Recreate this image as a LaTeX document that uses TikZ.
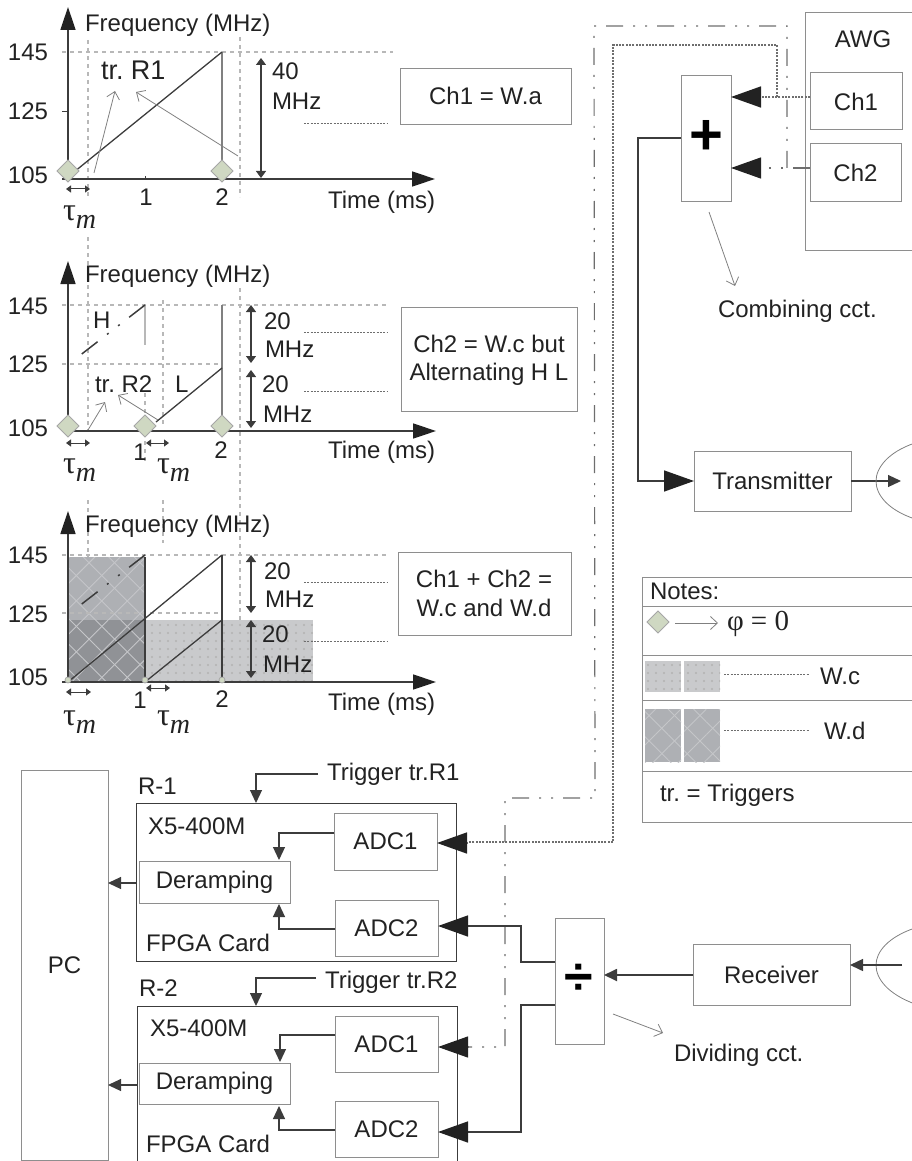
\documentclass[tikz,border=0pt]{standalone}
\usepackage{fontspec}
\setmainfont{Liberation Sans}
\newfontfamily\serifx{Liberation Serif}
\usetikzlibrary{arrows.meta,patterns.meta}
\frenchspacing
\definecolor{ink}{HTML}{222222}
\definecolor{edge}{HTML}{8E8E8E}
\definecolor{wire}{HTML}{3C3C3C}
\definecolor{grid}{HTML}{B8B8B8}
\definecolor{phase}{HTML}{CFD8C2}
\definecolor{wc}{HTML}{C9CACC}
\definecolor{wd}{HTML}{AEB0B4}
\definecolor{both}{HTML}{909296}
\definecolor{ddc}{HTML}{6E6E6E}
\newcommand{\rbox}[6]{%
  \pgfmathsetmacro\bw{abs(#4-#2)}\pgfmathsetmacro\bh{abs(#5-#3)}%
  \pgfmathsetmacro\bx{(#2+#4)/2}\pgfmathsetmacro\by{(#3+#5)/2}%
  \node[boxn,minimum width=\bw pt,minimum height=\bh pt] (#1) at (\bx,\by) {#6};}
\newcommand{\taum}{{\serifx\fontsize{32}{32}\selectfont τ}\raisebox{-8pt}{\serifx\itshape\fontsize{28}{28}\selectfont m}}
\tikzset{
  x=1pt,y=-1pt,
  every node/.style={text=ink,font=\fontsize{24}{26}\selectfont,inner sep=0pt,outer sep=0pt},
  boxn/.style={draw=edge,line width=1pt,fill=white,align=center},
  lbl/.style={anchor=base west},
  mid/.style={anchor=base},
  axis/.style={draw=#1,line width=1.4pt,-{Triangle[length=23pt,width=15pt,fill=ink,color=ink]}},
  axis/.default=wire,
  gridl/.style={draw=grid,line width=1.1pt,dash pattern=on 4pt off 4pt},
  ramp/.style={draw=wire,line width=1.3pt},
  vbar/.style={draw=#1,line width=1.3pt},
  vbar/.default=gray,
  span/.style={draw=wire,line width=1.3pt,{Triangle[length=7pt,width=10pt]}-{Triangle[length=7pt,width=10pt]}},
  tau/.style={draw=wire,line width=1pt,{Triangle[length=5pt,width=7pt]}-{Triangle[length=5pt,width=7pt]}},
  thin/.style={draw=gray,line width=.8pt,-{Straight Barb[length=7pt,width=13pt]}},
  dots/.style={draw=#1,line width=1pt,dash pattern=on 2pt off 1.3pt},
  dots/.default=ddc,
  dd/.style={draw=ddc,line width=1.2pt,dash pattern=on 17pt off 10pt on 2pt off 10pt on 2pt off 10pt},
  hdash/.style={draw=wire,line width=1.5pt,dash pattern=on 20pt off 12pt on 2pt off 12pt on 2pt off 12pt on 20pt off 10pt on 2pt off 50pt},
  phasem/.style={draw=gray!70,fill=phase,line width=.8pt},
  solid wire/.style={draw=wire,line width=1.5pt},
  bighead/.style={-{Triangle[length=30pt,width=21pt,color=ink]}},
  medhead/.style={-{Triangle[length=13pt,width=12pt,color=wire]}},
  smallhead/.style={-{Triangle[length=11pt,width=11pt,color=wire]}},
  xlinesa/.style={pattern={Lines[angle=45,distance=18pt,line width=.9pt]},pattern color=wd!72!white},
  xlinesb/.style={pattern={Lines[angle=-45,distance=18pt,line width=.9pt]},pattern color=wd!72!white},
  dotfill/.style={pattern={Dots[distance=8pt,radius=1.1pt]},pattern color=gray!60},
}
\newcommand{\diam}[2]{\draw[phasem] (#1-11,#2) -- (#1,#2-11) -- (#1+11,#2) -- (#1,#2+11) -- cycle;}
\begin{document}
\begin{tikzpicture}
\useasboundingbox (0,0) rectangle (912,1161);
\clip (0,0) rectangle (912,1161);
% long grid lines
\draw[gridl] (88,40) -- (88,197);
\draw[gridl] (88,237) -- (88,430);
\draw[gridl] (88,500) -- (88,680);
\draw[gridl] (240,37) -- (240,197);
\draw[gridl] (240,288) -- (240,640);
\draw[gridl] (163,300) -- (163,425);
\draw[gridl] (163,500) -- (163,543);
\draw[gridl] (145,393) -- (145,463);
\draw[gridl] (62,52) -- (393,52);
\draw[gridl] (62,305) -- (387,305);
\draw[gridl] (62,364) -- (222,364);
\draw[gridl] (62,555) -- (387,555);
% ---------- plot 3 shading
\fill[wd] (68,557) rectangle (145,682);
\fill[wc] (145,620) rectangle (313,682);
\fill[both] (68,620) rectangle (145,682);
\fill[xlinesa] (68,557) rectangle (145,682);
\fill[xlinesb] (68,557) rectangle (145,682);
\fill[dotfill] (145,620) rectangle (313,682);
\draw[gridl] (62,613) -- (222,613);
% ---------- plot 1
\draw[axis] (68,178) -- (68,7);
\draw[axis] (62,179) -- (435,179);
\draw[draw=wire,line width=1pt] (62,112) -- (68,112);
\draw[draw=wire,line width=1pt] (145,176) -- (145,179);
\draw[vbar] (222,52) -- (222,178);
\draw[ramp] (74,172) -- (222,52);
\diam{68}{171}
\diam{222}{171}
\draw[thin] (94,173) -- (115,91);
\draw[thin] (238,156) -- (136,92);
\draw[span] (261,58) -- (261,178);
\draw[tau] (66,189) -- (90,189);
\draw[dots] (304,124) -- (388,124);
\node[lbl] (f1) at (85,32) {Frequency (MHz)};
\node[lbl] (a145) at (8,61) {145};
\node[lbl] (a125) at (8,120) {125};
\node[lbl] (a105) at (8,183) {105};
\node[mid] (t1a) at (146,205) {1};
\node[mid] (t1b) at (222,205) {2};
\node[lbl] (tm1) at (328,208) {Time (ms)};
\node[lbl] (tau1) at (63,220) {\taum};
\node[lbl,font=\fontsize{27}{28}\selectfont] (trr1) at (101,80) {tr. R1};
\node[lbl] (n40) at (272,80) {40};
\node[lbl] (m40) at (272,110) {MHz};
\rbox{cha}{400}{69}{571}{125}{}
\node[mid] (chat) at (485.5,105) {Ch1 = W.a};
% ---------- plot 2
\draw[axis] (68,427) -- (68,261);
\draw[axis] (62,431) -- (436,431);
\draw[vbar] (222,305) -- (222,431);
\draw[vbar=grid] (145,305) -- (145,345);
\draw[ramp] (156,422) -- (222,368);
\draw[hdash] (145,305) -- (74,360);
\diam{68}{426}
\diam{145}{426}
\diam{222}{426}
\draw[thin] (88,430) -- (105,402);
\draw[thin] (158,420) -- (118,395);
\draw[span] (251,305) -- (251,363);
\draw[span] (251,370) -- (251,428);
\draw[tau] (66,443) -- (90,443);
\draw[tau] (146,443) -- (169,443);
\draw[dots] (304,332) -- (388,332);
\draw[dots] (304,391) -- (388,391);
\node[lbl] (f2) at (85,282) {Frequency (MHz)};
\node[lbl] (b145) at (8,314) {145};
\node[lbl] (b125) at (8,372) {125};
\node[lbl] (b105) at (8,436) {105};
\node[mid] (t2a) at (140,460) {1};
\node[mid] (t2b) at (221,458) {2};
\node[lbl] (tm2) at (328,458) {Time (ms)};
\node[lbl] (tau2a) at (63,473) {\taum};
\node[lbl] (tau2b) at (157,473) {\taum};
\node[lbl] (hh) at (93,328) {H};
\node[lbl] (ll) at (175,392) {L};
\node[lbl] (trr2) at (95,392) {tr. R2};
\node[lbl] (n20a) at (264,329) {20};
\node[lbl] (m20a) at (265,357) {MHz};
\node[lbl] (n20b) at (262,392) {20};
\node[lbl] (m20b) at (263,422) {MHz};
\rbox{chb}{401}{307}{577}{411}{}
\node[mid] (chbt) at (489,352) {Ch2 = W.c but};
\node[mid] (chbu) at (489,380) {Alternating H L};
% ---------- plot 3
\draw[axis] (68,680) -- (68,511);
\draw[axis] (62,682) -- (436,682);
\draw[ramp] (68,682) -- (222,555);
\draw[ramp] (145,682) -- (222,620);
\draw[vbar=wire] (145,557) -- (145,682);
\draw[vbar=wire] (222,555) -- (222,682);
\draw[hdash] (145,555) -- (74,610);
\foreach \cx in {68,145,222} \draw[phasem] (\cx,680) circle (3);
\draw[span] (251,555) -- (251,613);
\draw[span] (251,620) -- (251,678);
\draw[tau] (66,692) -- (91,692);
\draw[tau] (146,688) -- (170,688);
\draw[dots] (304,582) -- (388,582);
\draw[dots] (304,641) -- (388,641);
\node[lbl] (f3) at (85,532) {Frequency (MHz)};
\node[lbl] (c145) at (8,563) {145};
\node[lbl] (c125) at (8,622) {125};
\node[lbl] (c105) at (8,685) {105};
\node[mid] (t3a) at (140,708) {1};
\node[mid] (t3b) at (222,707) {2};
\node[lbl] (tm3) at (328,710) {Time (ms)};
\node[lbl] (tau3a) at (63,725) {\taum};
\node[lbl] (tau3b) at (157,725) {\taum};
\node[lbl] (n20c) at (264,579) {20};
\node[lbl] (m20c) at (265,607) {MHz};
\node[lbl] (n20d) at (262,642) {20};
\node[lbl] (m20d) at (263,672) {MHz};
\rbox{chc}{398}{552}{571}{635}{}
\node[mid] (chct) at (484,587) {Ch1 + Ch2 =};
\node[mid] (chcu) at (484,616) {W.c and W.d};
% ---------- AWG
\draw[draw=edge,line width=1pt] (920,13) -- (805,13) -- (805,250) -- (920,250);
\node[mid] (awg) at (863,48) {AWG};
\rbox{ch1}{810}{73}{902}{130}{Ch1}
\rbox{ch2}{810}{144}{901}{201}{Ch2}
\rbox{plus}{681}{76}{731}{201}{}
\node[font=\fontsize{58}{58}\bfseries\selectfont,text=black] (plust) at (706,137) {+};
\node[lbl] (comb) at (718,317) {Combining cct.};
\draw[thin] (709,212) -- (735,286);
% ---------- receivers
\rbox{pc}{21}{770}{108}{1160}{PC}
\rbox{r1}{136}{803}{456}{961}{}
\draw[draw=wire,line width=1pt] (r1.north west) rectangle (r1.south east);
\draw[draw=wire,line width=1pt] (137,1170) -- (137,1006) -- (457,1006) -- (457,1170);
\rbox{dr1}{139}{861}{290}{903}{Deramping}
\rbox{dr2}{139}{1063}{290}{1104}{Deramping}
\rbox{a11}{334}{813}{437}{870}{ADC1}
\rbox{a12}{335}{900}{438}{956}{ADC2}
\rbox{a21}{335}{1016}{438}{1072}{ADC1}
\rbox{a22}{335}{1101}{438}{1157}{ADC2}
\node[lbl] (r1l) at (138,794) {R-1};
\node[lbl] (r2l) at (139,996) {R-2};
\node[lbl] (xa) at (148,834) {X5-400M};
\node[lbl] (xb) at (150,1036) {X5-400M};
\node[lbl] (fa) at (146,951) {FPGA Card};
\node[lbl] (fb) at (146,1152) {FPGA Card};
\node[lbl] (tga) at (327,780) {Trigger tr.R1};
\node[lbl] (tgb) at (325,988) {Trigger tr.R2};
\coordinate (ta) at (318,774);
\coordinate (tb) at (316,978);
\coordinate (tax) at (256,803);
\coordinate (tbx) at (256,1006);
\draw[solid wire,line width=1.2pt,medhead] (ta) -| (tax);
\draw[solid wire,line width=1.2pt,medhead] (tb) -| (tbx);
\draw[solid wire,line width=1.2pt,medhead] (a11.west |- 0,833) -| (279,860);
\draw[solid wire,line width=1.2pt,medhead] (a12.west |- 0,929) -| (279,904);
\draw[solid wire,line width=1.2pt,medhead] (a21.west |- 0,1035) -| (280,1062);
\draw[solid wire,line width=1.2pt,medhead] (a22.west |- 0,1130) -| (279,1106);
\draw[solid wire,line width=1.2pt,medhead] (137,883) -- (pc.east |- 0,883);
\draw[solid wire,line width=1.2pt,medhead] (137,1085) -- (pc.east |- 0,1085);
% ---------- combiner wires
\coordinate (c1out) at (ch1.west |- 0,97);
\coordinate (c2out) at (ch2.west |- 0,168);
\draw[dd] (787,168) -- (787,26) -- (594,26) -- (595,798) -- (505,798) -- (505,1047) -- (468,1047);
\draw[dd,bighead] (c2out) -- (plus.east |- c2out);
\draw[dots,line width=1.5pt] (777,97) -- (777,45) -- (613,45) -- (613,842) -- (468,842);
\draw[dots,line width=1.5pt,bighead] (c1out) -- (plus.east |- c1out);
\draw[dots,line width=1.5pt,bighead] (468,843) -- (a11.east |- 0,843);
\draw[dd,bighead] (468,1047) -- (a21.east |- 0,1047);
% ---------- transmitter
\rbox{tx}{694}{451}{851}{511}{Transmitter}
\rbox{rx}{693}{944}{850}{1005}{Receiver}
\rbox{div}{555}{918}{604}{1044}{}
\node[font=\fontsize{52}{52}\bfseries\selectfont,text=black] (divt) at (579,979) {÷};
\draw[solid wire,bighead] (plus.west |- 0,138) -- (638,138) -- (638,481) -- (tx.west |- 0,481);
\draw[solid wire,line width=1.2pt] (tx.east) -- (880,481);
\coordinate (txend) at (901,481);
\draw[solid wire,line width=1.2pt,medhead] (880,481) -- (txend);
\draw[draw=gray,line width=.8pt] (915,443) .. controls (888,452) and (876,468) .. (876,481) .. controls (876,495) and (888,510) .. (915,519);
\draw[draw=gray,line width=.8pt] (915,928) .. controls (888,937) and (876,952) .. (876,965) .. controls (876,979) and (888,994) .. (915,1004);
\coordinate (rxin) at (902,965);
\draw[solid wire,medhead] (rxin) -- (rx.east |- rxin);
\draw[solid wire,line width=1.8pt,medhead] (rx.west |- 0,975) -- (div.east |- 0,975);
\draw[solid wire,bighead] (div.west |- 0,962) -- (521,962) -- (521,926) -- (a12.east |- 0,926);
\draw[solid wire,bighead] (div.west |- 0,1005) -- (521,1005) -- (521,1132) -- (a22.east |- 0,1132);
\draw[thin] (613,1014) -- (663,1033);
\node[lbl] (divl) at (674,1061) {Dividing cct.};
% ---------- notes
\draw[draw=edge,line width=1pt] (920,577) -- (642,577) -- (642,822) -- (920,822);
\foreach \yy in {606,655,700,771} \draw[draw=edge,line width=1pt] (642,\yy) -- (920,\yy);
\node[lbl] (notes) at (650,599) {Notes:};
\diam{658}{622}
\draw[thin] (675,623) -- (718,623);
\node[lbl,font=\serifx\fontsize{29}{30}\selectfont] (phi) at (727,630) {φ = 0};
\foreach \sx in {645,684} {
  \fill[wc] (\sx,661) rectangle (\sx+36,692);
  \fill[dotfill] (\sx,661) rectangle (\sx+36,692);
  \fill[wd] (\sx,709) rectangle (\sx+36,762);
  \fill[xlinesa] (\sx,709) rectangle (\sx+36,762);
  \fill[xlinesb] (\sx,709) rectangle (\sx+36,762);
}
\draw[dots] (724,674) -- (809,674);
\draw[dots] (724,730) -- (809,730);
\node[lbl] (wcl) at (820,684) {W.c};
\node[lbl] (wdl) at (824,739) {W.d};
\node[lbl] (trt) at (660,801) {tr. = Triggers};
\end{tikzpicture}
\end{document}
